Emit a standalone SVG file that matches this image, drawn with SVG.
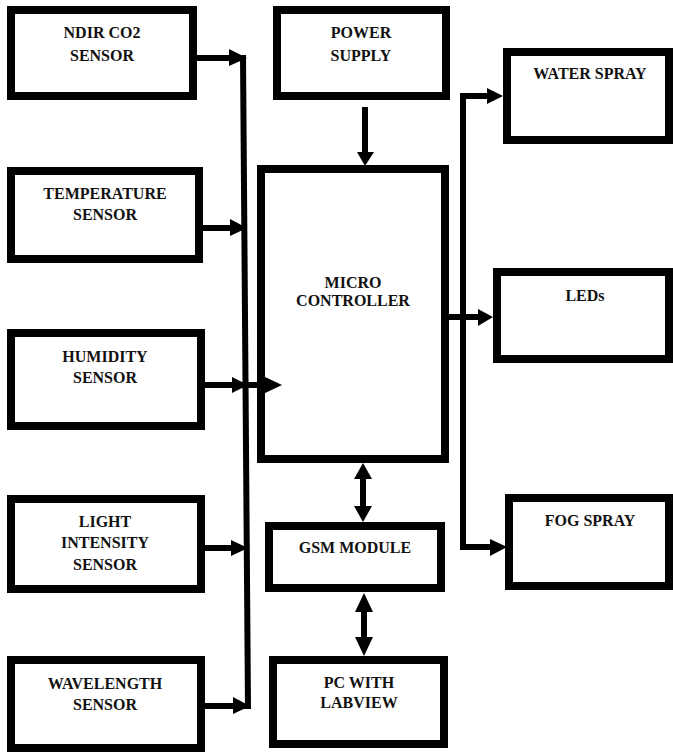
<svg xmlns="http://www.w3.org/2000/svg" width="673" height="753" viewBox="0 0 673 753">
<style>
.box{fill:#fff;stroke:#000;stroke-width:8}
.t{font-family:'Liberation Serif','Times New Roman',Times,serif;font-weight:700;font-size:16px;fill:#111;text-anchor:middle}
.c{fill:none;stroke:#000;stroke-width:6;stroke-linejoin:miter}
.h{fill:#000;stroke:none}
</style>
<rect width="673" height="753" fill="#fff"/>
<g font-family="Liberation Serif, Times New Roman, serif">
<g id="ndir"><rect class="box" x="11" y="10" width="182" height="86"/><text class="t" x="102" y="38">NDIR CO2</text><text class="t" x="102" y="61">SENSOR</text></g>
<g id="temperature"><rect class="box" x="11" y="171" width="188" height="88"/><text class="t" x="105" y="199">TEMPERATURE</text><text class="t" x="105" y="220">SENSOR</text></g>
<g id="humidity"><rect class="box" x="11" y="333" width="190" height="93"/><text class="t" x="105" y="362">HUMIDITY</text><text class="t" x="105" y="383">SENSOR</text></g>
<g id="light"><rect class="box" x="11" y="499" width="190" height="90"/><text class="t" x="105" y="527">LIGHT</text><text class="t" x="105" y="548">INTENSITY</text><text class="t" x="105" y="570">SENSOR</text></g>
<g id="wavelength"><rect class="box" x="11" y="660" width="190" height="88"/><text class="t" x="105" y="689">WAVELENGTH</text><text class="t" x="105" y="710">SENSOR</text></g>
<g id="power"><rect class="box" x="277" y="10" width="169" height="86"/><text class="t" x="361" y="38">POWER</text><text class="t" x="361" y="61">SUPPLY</text></g>
<g id="micro"><rect class="box" x="261" y="169" width="184" height="290"/><text class="t" x="353" y="288">MICRO</text><text class="t" x="353" y="306">CONTROLLER</text></g>
<g id="gsm"><rect class="box" x="269" y="526" width="172" height="62"/><text class="t" x="355" y="553">GSM MODULE</text></g>
<g id="pc"><rect class="box" x="273" y="660" width="171" height="84"/><text class="t" x="359" y="688">PC WITH</text><text class="t" x="359" y="708">LABVIEW</text></g>
<g id="water"><rect class="box" x="507" y="52" width="162" height="88"/><text class="t" x="590" y="79">WATER SPRAY</text></g>
<g id="leds"><rect class="box" x="497" y="272" width="172" height="87"/><text class="t" x="585" y="301">LEDs</text></g>
<g id="fog"><rect class="box" x="509" y="498" width="160" height="88"/><text class="t" x="590" y="526">FOG SPRAY</text></g>
</g>
<g id="connectors">
<path class="c" d="M243 55 L248 709"/>
<path class="c" d="M197 58 H232"/><polygon class="h" points="229,49 247,58 229,66"/>
<path class="c" d="M203 228 H233"/><polygon class="h" points="230,219 247,228 230,236"/>
<path class="c" d="M205 385 H265"/><polygon class="h" points="232,377 248,385 232,393"/><polygon class="h" points="263,376 282,385 263,394"/>
<path class="c" d="M205 548 H234"/><polygon class="h" points="231,540 248,548 231,556"/>
<path class="c" d="M205 706 H248"/><polygon class="h" points="233,697 250,706 233,714"/>
<path class="c" d="M365 107 V154"/><polygon class="h" points="357,152 374,152 365,166"/>
<path class="c" d="M363 476 V509"/><polygon class="h" points="354,479 363,463 372,479"/><polygon class="h" points="354,506 363,522 372,506"/>
<path class="c" d="M364 609 V640"/><polygon class="h" points="355,612 364,593 373,612"/><polygon class="h" points="355,637 364,656 373,637"/>
<path class="c" d="M490 96 H463 V547 H492"/><polygon class="h" points="487,88 503,96 487,104"/><polygon class="h" points="490,539 507,547 490,556"/>
<path class="c" d="M449 317 H481"/><polygon class="h" points="478,309 493,317 478,326"/>
</g>
</svg>
